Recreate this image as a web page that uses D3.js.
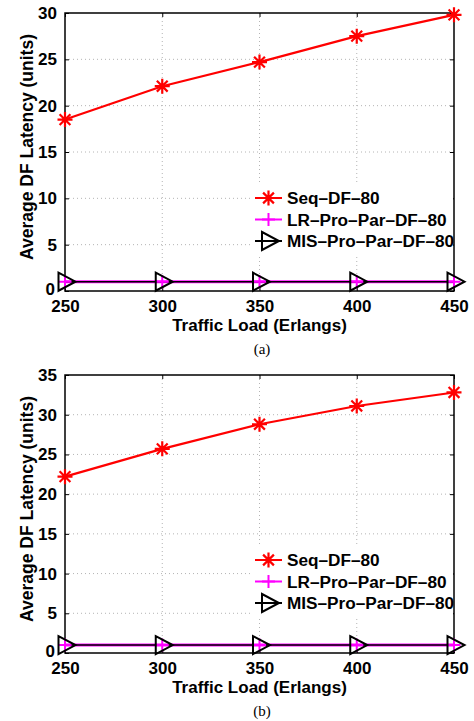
<!DOCTYPE html>
<html>
<head>
<meta charset="utf-8">
<script src="https://d3js.org/d3.v7.min.js"></script>
<style>
  body { margin: 0; background: #fff; }
  svg { display: block; }
  .tick-label, .axis-title, .legend-text { font-family: "Liberation Sans", Arial, Helvetica, sans-serif; font-weight: bold; }
  .caption { font-family: "Liberation Serif", "Times New Roman", serif; }
</style>
</head>
<body>
<svg id="chart" width="474" height="721"></svg>
<script>
const loads = [250, 300, 350, 400, 450];
const xTicks = [250, 300, 350, 400, 450];

// panel (a)
const seqA = [18.5, 22.1, 24.7, 27.5, 29.8];
const lrA = [1, 1, 1, 1, 1];
const misA = [1, 1, 1, 1, 1];
const yTicksA = [0, 5, 10, 15, 20, 25, 30];

// panel (b)
const seqB = [22.2, 25.7, 28.8, 31.1, 32.8];
const lrB = [1, 1, 1, 1, 1];
const misB = [1, 1, 1, 1, 1];
const yTicksB = [0, 5, 10, 15, 20, 25, 30, 35];

const seriesNames = ['Seq\u2013DF\u201380', 'LR\u2013Pro\u2013Par\u2013DF\u201380', 'MIS\u2013Pro\u2013Par\u2013DF\u201380'];
const seriesColors = ['#ff0000', '#ff00ff', '#000000'];
const seriesMarkers = ['asterisk', 'plus', 'triangle'];

const svg = d3.select('#chart');
const left = 65, right = 454;

drawPanel({ top: 13, bottom: 291, yMax: 30, yTicks: yTicksA, series: [seqA, lrA, misA], caption: '(a)' });
drawPanel({ top: 375, bottom: 653, yMax: 35, yTicks: yTicksB, series: [seqB, lrB, misB], caption: '(b)' });

function drawMarker(g, type, color) {
  if (type === 'asterisk') {
    const r = 7.5, d = r * 0.72;
    g.append('path')
      .attr('d', `M${-r},0L${r},0M0,${-r}L0,${r}M${-d},${-d}L${d},${d}M${-d},${d}L${d},${-d}`)
      .attr('stroke', color).attr('stroke-width', 2.2).attr('fill', 'none');
  } else if (type === 'plus') {
    const r = 6.5;
    g.append('path')
      .attr('d', `M${-r},0L${r},0M0,${-r}L0,${r}`)
      .attr('stroke', color).attr('stroke-width', 2).attr('fill', 'none');
  } else {
    g.append('path')
      .attr('d', 'M-6.5,-9L10.5,0L-6.5,9Z')
      .attr('stroke', color).attr('stroke-width', 2).attr('fill', 'none')
      .attr('stroke-linejoin', 'miter');
  }
}

function drawPanel(p) {
  const x = d3.scaleLinear().domain([250, 450]).range([left, right]);
  const y = d3.scaleLinear().domain([0, p.yMax]).range([p.bottom, p.top]);
  const g = svg.append('g');

  // grid
  g.append('g').selectAll('line.vg')
    .data(xTicks.slice(1, -1))
    .join('line')
    .attr('x1', d => x(d)).attr('x2', d => x(d))
    .attr('y1', p.top).attr('y2', p.bottom)
    .attr('stroke', '#b4b4b4').attr('stroke-width', 1).attr('stroke-dasharray', '1,3');
  g.append('g').selectAll('line.hg')
    .data(p.yTicks.slice(1, -1))
    .join('line')
    .attr('x1', left).attr('x2', right)
    .attr('y1', d => y(d)).attr('y2', d => y(d))
    .attr('stroke', '#b4b4b4').attr('stroke-width', 1).attr('stroke-dasharray', '1,3');

  // axes with inward ticks on all four sides
  const tickLen = 4;
  const xb = g.append('g').attr('transform', `translate(0,${p.bottom})`)
    .call(d3.axisBottom(x).tickValues(xTicks).tickSizeInner(-tickLen).tickSizeOuter(0).tickPadding(9).tickFormat(d3.format('d')));
  const xt = g.append('g').attr('transform', `translate(0,${p.top})`)
    .call(d3.axisTop(x).tickValues(xTicks).tickSizeInner(-tickLen).tickSizeOuter(0).tickFormat(''));
  const yl = g.append('g').attr('transform', `translate(${left},0)`)
    .call(d3.axisLeft(y).tickValues(p.yTicks).tickSizeInner(-tickLen).tickSizeOuter(0).tickPadding(8));
  const yr = g.append('g').attr('transform', `translate(${right},0)`)
    .call(d3.axisRight(y).tickValues(p.yTicks).tickSizeInner(-tickLen).tickSizeOuter(0).tickFormat(''));

  [xb, xt, yl, yr].forEach(a => {
    a.select('.domain').remove();
    a.selectAll('.tick line').attr('stroke', '#000').attr('stroke-width', 1);
  });
  xb.selectAll('.tick text').attr('class', 'tick-label').attr('font-size', 17).attr('fill', '#000');
  yl.selectAll('.tick text').attr('class', 'tick-label').attr('font-size', 17).attr('fill', '#000');
  // the "0" sits a little lower-left, as in the original
  yl.selectAll('.tick text').filter(d => d === 0).attr('x', -10).attr('dy', '0.2em');

  g.append('rect')
    .attr('x', left).attr('y', p.top)
    .attr('width', right - left).attr('height', p.bottom - p.top)
    .attr('fill', 'none').attr('stroke', '#000').attr('stroke-width', 1.5);

  // legend background (drawn before lines so it only hides grid)
  const legRows = [p.top + 185, p.top + 206.5, p.top + 228];
  g.append('rect')
    .attr('x', 250).attr('y', legRows[0] - 13)
    .attr('width', right - 250 - 1).attr('height', legRows[2] - legRows[0] + 27)
    .attr('fill', '#fff');

  // series
  const line = d3.line().x((d, i) => x(loads[i])).y(d => y(d));
  const widths = [2.2, 3, 1.5];
  p.series.forEach((vals, s) => {
    g.append('path')
      .datum(vals)
      .attr('d', line)
      .attr('fill', 'none')
      .attr('stroke', seriesColors[s])
      .attr('stroke-width', widths[s]);
  });
  p.series.forEach((vals, s) => {
    g.append('g').selectAll('g')
      .data(vals)
      .join('g')
      .attr('transform', (d, i) => `translate(${x(loads[i])},${y(d)})`)
      .each(function() { drawMarker(d3.select(this), seriesMarkers[s], seriesColors[s]); });
  });

  // legend
  seriesNames.forEach((name, s) => {
    const ly = legRows[s];
    g.append('line')
      .attr('x1', 255).attr('x2', 282).attr('y1', ly).attr('y2', ly)
      .attr('stroke', seriesColors[s]).attr('stroke-width', 2);
    drawMarker(g.append('g').attr('transform', `translate(268.5,${ly})`), seriesMarkers[s], seriesColors[s]);
    g.append('text')
      .attr('class', 'legend-text')
      .attr('x', 287).attr('y', ly + 6)
      .attr('font-size', 17.2)
      .text(name);
  });

  // axis titles
  g.append('text')
    .attr('class', 'axis-title')
    .attr('x', (left + right) / 2).attr('y', p.bottom + 39.5)
    .attr('text-anchor', 'middle').attr('font-size', 17)
    .text('Traffic Load (Erlangs)');
  g.append('text')
    .attr('class', 'axis-title')
    .attr('transform', `translate(33,${(p.top + p.bottom) / 2 - 5}) rotate(-90)`)
    .attr('text-anchor', 'middle').attr('font-size', 17.5)
    .text('Average DF Latency (units)');

  g.append('text')
    .attr('class', 'caption')
    .attr('x', 262).attr('y', p.bottom + 63)
    .attr('text-anchor', 'middle').attr('font-size', 15)
    .text(p.caption);
}
</script>
</body>
</html>
